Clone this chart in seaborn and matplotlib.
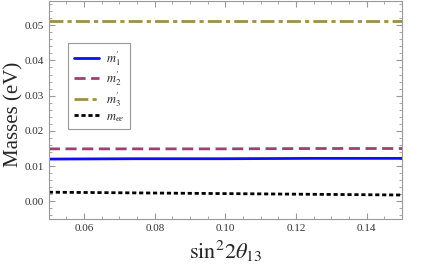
import matplotlib
matplotlib.use('Agg')
import matplotlib.pyplot as plt
import seaborn as sns
import pandas as pd
from matplotlib.ticker import MultipleLocator

# 数据
sin2 = [0.05, 0.075, 0.10, 0.125, 0.15]
m1 = [0.0120, 0.0121, 0.0121, 0.0122, 0.0122]
m2 = [0.0149, 0.0149, 0.0149, 0.0150, 0.0150]
m3 = [0.0513, 0.0513, 0.0513, 0.0513, 0.0513]
mee = [0.0026, 0.0024, 0.0022, 0.0020, 0.0018]
labels = [r"$m^{\prime}_{1}$", r"$m^{\prime}_{2}$", r"$m^{\prime}_{3}$", r"$m_{ee}$"]

sns.set_style('ticks')
plt.rcParams['font.family'] = ['Liberation Serif', 'DejaVu Serif']
plt.rcParams['mathtext.fontset'] = 'stix'

df = pd.DataFrame({'x': sin2, 'm1': m1, 'm2': m2, 'm3': m3, 'mee': mee})

fig = plt.figure(figsize=(4.36, 2.71), dpi=100)
ax = fig.add_axes([0.112, 0.192, 0.81, 0.806])

styles = [
    ('m1', '#1010ee', None),
    ('m2', '#9b4272', (0, (4, 2))),
    ('m3', '#9e8f45', (0, (5, 1.5, 1.5, 1.5))),
    ('mee', '#000000', (0, (1.5, 1))),
]
for (col, c, dash), lab in zip(styles, labels):
    sns.lineplot(data=df, x='x', y=col, color=c, lw=2, ax=ax, label=lab)
    if dash is not None:
        ax.lines[-1].set_linestyle(dash)

ax.set_xlim(0.05, 0.15)
ax.set_ylim(-0.005, 0.057)
ax.xaxis.set_major_locator(MultipleLocator(0.02))
ax.xaxis.set_minor_locator(MultipleLocator(0.005))
ax.yaxis.set_major_locator(MultipleLocator(0.01))
ax.yaxis.set_minor_locator(MultipleLocator(0.002))
ax.xaxis.set_major_formatter(plt.FormatStrFormatter('%.2f'))
ax.yaxis.set_major_formatter(plt.FormatStrFormatter('%.2f'))
ax.tick_params(which='both', direction='in', top=True, right=True, color='#999999', labelsize=8, labelcolor='#333333')
ax.tick_params(which='major', length=4)
ax.tick_params(which='minor', length=2)
for s in ax.spines.values():
    s.set_color('#999999')
    s.set_linewidth(0.8)

ax.set_xlabel(r'$\sin^{2}\!2\theta_{13}$', fontsize=16)
ax.set_ylabel('Masses (eV)', fontsize=15)
ax.yaxis.set_label_coords(-0.072, 0.48)

leg = ax.legend(loc='upper left', bbox_to_anchor=(0.054, 0.804), fancybox=False,
                edgecolor='#999999', framealpha=1, fontsize=9, handlelength=2.0,
                labelspacing=0.15, borderpad=0.45, borderaxespad=0, handletextpad=0.6)
leg.get_frame().set_linewidth(0.8)

fig.savefig('out.png', dpi=100)
